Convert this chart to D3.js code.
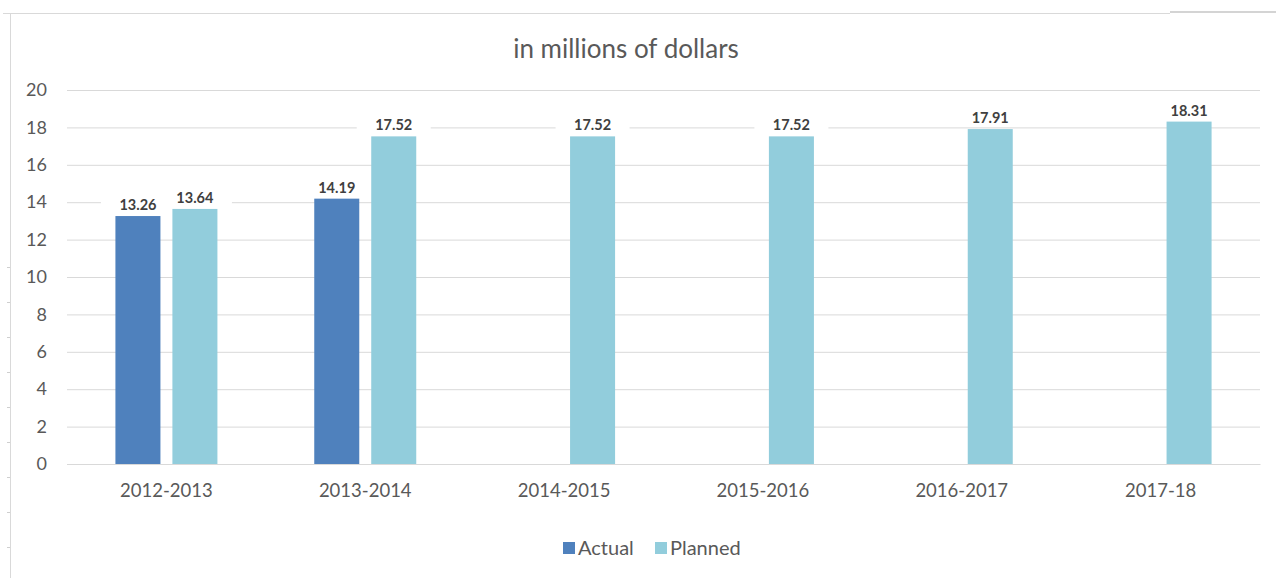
<!DOCTYPE html>
<html>
<head>
<meta charset="utf-8">
<script src="https://cdn.jsdelivr.net/npm/d3@7"></script>
<style>
  body { margin: 0; background: #fff; }
  svg { display: block; font-family: Lato, "Open Sans", sans-serif; }
</style>
</head>
<body>
<svg id="chart" width="1276" height="578"></svg>
<script>
const categories = ['2012-2013', '2013-2014', '2014-2015', '2015-2016', '2016-2017', '2017-18'];
const actual = [13.26, 14.19, null, null, null, null];
const planned = [13.64, 17.52, 17.52, 17.52, 17.91, 18.31];
const seriesNames = ['Actual', 'Planned'];
const seriesColors = ['#4F81BD', '#92CDDC'];
const yTicks = [0, 2, 4, 6, 8, 10, 12, 14, 16, 18, 20];

const width = 1276;
const height = 578;
const margin = {top: 90, right: 16, bottom: 114, left: 67};

const svg = d3.select('svg#chart');

// chart frame (partial border as in the screenshot)
svg.append('line')
  .attr('x1', 3).attr('x2', 1170).attr('y1', 13.5).attr('y2', 13.5)
  .attr('stroke', '#d9d9d9');
svg.append('line')
  .attr('x1', 1170).attr('x2', width).attr('y1', 12).attr('y2', 12)
  .attr('stroke', '#d4d4d4').attr('stroke-width', 2);
svg.append('line')
  .attr('x1', 10.5).attr('x2', 10.5).attr('y1', 13).attr('y2', height)
  .attr('stroke', '#d9d9d9');
svg.selectAll('line.edge-tick').data(d3.range(267, 560, 35)).enter()
  .append('line')
  .attr('class', 'edge-tick')
  .attr('x1', 7).attr('x2', 10).attr('y1', d => d + 0.5).attr('y2', d => d + 0.5)
  .attr('stroke', '#cfcfcf');

const x0 = d3.scaleBand()
  .domain(categories)
  .range([margin.left, width - margin.right]);

// two bars of ~45px with a 12px gap, centred in each category
const groupWidth = 102;
const x1 = d3.scaleBand()
  .domain(seriesNames)
  .range([(x0.bandwidth() - groupWidth) / 2, (x0.bandwidth() + groupWidth) / 2])
  .paddingInner(0.21);

const y = d3.scaleLinear()
  .domain([0, 20])
  .range([height - margin.bottom, margin.top]);

// title
svg.append('text')
  .attr('x', 626)
  .attr('y', 58)
  .attr('text-anchor', 'middle')
  .attr('font-size', 26)
  .attr('fill', '#595959')
  .text('in millions of dollars');

// gridlines
svg.append('g')
  .attr('transform', `translate(${margin.left},0)`)
  .call(d3.axisLeft(y).tickValues(yTicks).tickSize(-(width - margin.right - margin.left)).tickFormat(''))
  .call(g => g.select('.domain').remove())
  .call(g => g.selectAll('.tick line').attr('stroke', '#d9d9d9'));

// y axis labels
svg.append('g')
  .attr('transform', `translate(${margin.left - 20},0)`)
  .call(d3.axisLeft(y).tickValues(yTicks).tickSize(0).tickPadding(0))
  .call(g => g.select('.domain').remove())
  .call(g => g.selectAll('.tick text')
    .attr('font-size', 18)
    .attr('font-family', 'Lato, sans-serif')
    .attr('fill', '#595959'));

const rows = categories.map((c, i) => ({cat: c, values: [actual[i], planned[i]]}));
const cellData = rows.flatMap(d => d.values.map((v, j) => ({cat: d.cat, series: seriesNames[j], idx: j, value: v})))
  .filter(e => e.value != null);
const cx = d => x0(d.cat) + x1(d.series) + x1.bandwidth() / 2;

// white backing behind data labels (gaps in the gridlines), kept under the bars
svg.append('g').selectAll('rect').data(cellData).enter()
  .append('rect')
  .attr('x', d => cx(d) - 37)
  .attr('y', d => y(d.value) - 17)
  .attr('width', 74)
  .attr('height', 12)
  .attr('fill', '#fff');

// x axis
svg.append('g')
  .attr('transform', `translate(0,${y(0)})`)
  .call(d3.axisBottom(x0).tickSize(0).tickPadding(20))
  .call(g => g.select('.domain').attr('stroke', '#d9d9d9'))
  .call(g => g.selectAll('.tick text')
    .attr('font-size', 18.5)
    .attr('font-family', 'Lato, sans-serif')
    .attr('fill', '#595959'));

// bars
svg.append('g').selectAll('rect').data(cellData).enter()
  .append('rect')
  .attr('x', d => x0(d.cat) + x1(d.series))
  .attr('y', d => y(d.value))
  .attr('width', x1.bandwidth())
  .attr('height', d => y(0) - y(d.value))
  .attr('fill', d => seriesColors[d.idx]);

// data labels
svg.append('g').selectAll('text').data(cellData).enter()
  .append('text')
  .attr('x', cx)
  .attr('y', d => y(d.value) - 6)
  .attr('text-anchor', 'middle')
  .attr('font-size', 14.5)
  .attr('font-weight', 'bold')
  .attr('fill', '#404040')
  .text(d => d.value.toFixed(2));

// legend
const legend = svg.append('g').attr('transform', 'translate(563,548)');
const legendX = [0, 92];
seriesNames.forEach((name, i) => {
  legend.append('rect')
    .attr('x', legendX[i]).attr('y', -6)
    .attr('width', 12).attr('height', 12)
    .attr('fill', seriesColors[i]);
  legend.append('text')
    .attr('x', legendX[i] + 15).attr('y', 7)
    .attr('font-size', 20)
    .attr('fill', '#595959')
    .text(name);
});
</script>
</body>
</html>
